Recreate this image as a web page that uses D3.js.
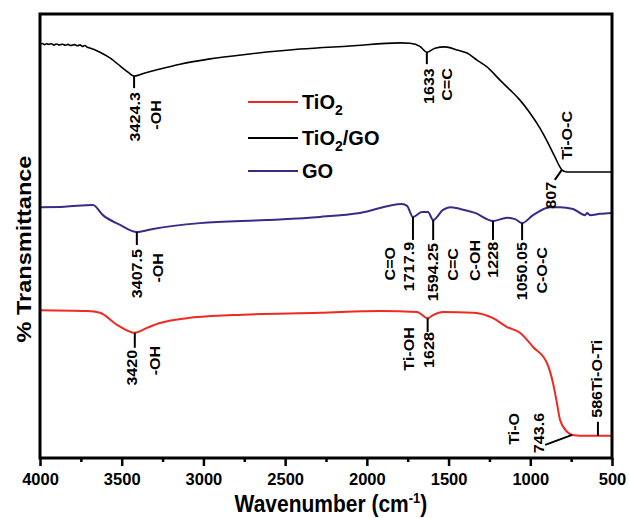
<!DOCTYPE html>
<html>
<head>
<meta charset="utf-8">
<script src="https://cdn.jsdelivr.net/npm/d3@7"></script>
<style>
  body { margin: 0; background: #fff; }
  svg { display: block; }
  text { font-family: "Liberation Sans", Arial, sans-serif; font-weight: bold; fill: #000; }
</style>
</head>
<body>
<svg width="629" height="518"></svg>
<script>
// FTIR spectra of TiO2, TiO2/GO and GO (offset, arbitrary % transmittance)

var majorTicks = [4000, 3500, 3000, 2500, 2000, 1500, 1000, 500];
var minorTicks = [3750, 3250, 2750, 2250, 1750, 1250, 750];

// [wavenumber, transmittance]
var tio2GO = [
  [4000, 93.2], [3985, 93.35], [3972, 93.1], [3960, 93.3], [3948, 93.15], [3930, 93.3],
  [3915, 93.0], [3900, 93.25], [3880, 93.05], [3862, 93.2], [3845, 92.95], [3830, 93.15],
  [3810, 92.9], [3790, 93.1], [3770, 92.85], [3755, 93.05], [3740, 92.7], [3725, 92.9],
  [3710, 92.5], [3700, 92.4], [3633, 91.4], [3572, 90.1],
  [3510, 88.3], [3462, 86.9], [3424.3, 86.0], [3358, 86.7], [3266, 87.6], [3143, 88.7],
  [2960, 89.9], [2715, 91.0], [2409, 92.1], [2103, 92.8], [1797, 93.5], [1736, 93.4],
  [1675, 92.7], [1633, 91.4], [1583, 92.3], [1522, 92.6], [1449, 91.9], [1387, 91.2],
  [1326, 89.6], [1265, 88.1], [1185, 85.1], [1124, 82.9], [1063, 80.6], [1002, 77.7],
  [941, 74.3], [892, 71.0], [849, 67.8], [818, 65.5], [807, 64.9], [790, 64.5],
  [775, 64.4], [500, 64.4]
];

var go = [
  [4000, 56.5], [3850, 56.6], [3676, 57.0], [3615, 54.7], [3510, 52.5], [3407.5, 50.9],
  [3309, 51.6], [3021, 52.9], [2611, 53.6], [2287, 54.3], [2042, 55.2], [1785, 57.2],
  [1754, 56.8], [1717.9, 54.3], [1663, 55.4], [1626, 55.4], [1594.25, 53.6], [1534, 55.9],
  [1491, 56.5], [1430, 56.1], [1338, 55.2], [1228, 53.4], [1142, 54.1], [1093, 53.8],
  [1050.05, 52.9], [983, 54.7], [879, 56.5], [818, 56.5], [739, 56.1], [665, 54.7],
  [653, 55.2], [635, 54.7], [574, 55.0], [500, 55.2]
];

var tio2 = [
  [4000, 33.3], [3712, 33.1], [3633, 32.7], [3529, 30.0], [3420, 28.2], [3345, 29.3],
  [3266, 30.4], [3101, 31.5], [2819, 32.2], [2287, 32.7], [1920, 33.1], [1693, 32.9],
  [1628, 31.5], [1595, 32.2], [1534, 32.9], [1350, 32.7], [1228, 31.5], [1142, 29.5],
  [1063, 28.2], [983, 25.0], [898, 21.4], [861, 16.9], [837, 12.4], [818, 8.6],
  [775, 5.9], [743.6, 5.2], [653, 5.0], [586, 5.0], [500, 5.0]
];

var seriesNames = ["TiO2", "TiO2/GO", "GO"];
var seriesColors = { "TiO2": "#ee2a24", "TiO2/GO": "#000000", "GO": "#3b2a8a" };
var seriesData = { "TiO2": tio2, "TiO2/GO": tio2GO, "GO": go };

// peak labels
var annotations = [
  { series: "TiO2/GO", wn: 3424.3, lines: ["3424.3", "-OH"] },
  { series: "TiO2/GO", wn: 1633, lines: ["1633", "C=C"] },
  { series: "TiO2/GO", wn: 807, lines: ["807", "Ti-O-C"] },
  { series: "GO", wn: 3407.5, lines: ["3407.5", "-OH"] },
  { series: "GO", wn: 1717.9, lines: ["C=O", "1717.9"] },
  { series: "GO", wn: 1594.25, lines: ["1594.25", "C=C"] },
  { series: "GO", wn: 1228, lines: ["C-OH", "1228"] },
  { series: "GO", wn: 1050.05, lines: ["1050.05", "C-O-C"] },
  { series: "TiO2", wn: 3420, lines: ["3420", "-OH"] },
  { series: "TiO2", wn: 1628, lines: ["Ti-OH", "1628"] },
  { series: "TiO2", wn: 743.6, lines: ["Ti-O", "743.6"] },
  { series: "TiO2", wn: 586, lines: ["586Ti-O-Ti"] }
];

// layout of each label: leader end offset, and text offsets (dx, dy, anchor)
var annLayout = [
  { lead: [0, 12], txt: [[1, 16, "end"], [22, 24, "end"]] },
  { lead: [0, 12], txt: [[2, 16, "end"], [20, 16, "end"]] },
  { lead: [-7, 10], txt: [[-11, 12, "end"], [5, -10, "start"]] },
  { lead: [0, 13], txt: [[0, 17, "end"], [21, 21, "end"]] },
  { lead: [0, 23], txt: [[-23, 30, "end"], [-4, 25, "end"]] },
  { lead: [0, 20], txt: [[0, 23, "end"], [20, 28, "end"]] },
  { lead: [0, 19], txt: [[-18, 19, "end"], [0, 21, "end"]] },
  { lead: [0, 17], txt: [[0, 19, "end"], [20, 24, "end"]] },
  { lead: [0, 15], txt: [[-3, 17, "end"], [20, 13, "end"]] },
  { lead: [0, 14], txt: [[-19, 9, "end"], [1, 14, "end"]] },
  { lead: [-27, 10], txt: [[-58, -22, "end"], [-33, -22, "end"]] },
  { lead: [0, -14], txt: [[-1, -18, "start"]] }
];

var svg = d3.select("svg"),
    plotL = 40, plotR = 612, plotT = 14, plotB = 458;

var xScale = d3.scaleLinear().domain([4000, 500]).range([plotL, plotR]),
    yScale = d3.scaleLinear().domain([0, 100]).range([plotB, plotT]);

// value of a series at a given wavenumber
var valueAt = function(data, wn) {
    for (var i = 0; i < data.length - 1; i++) {
        var a = data[i], b = data[i + 1];
        if (wn <= a[0] && wn >= b[0]) {
            var t = (a[0] - wn) / (a[0] - b[0]);
            return a[1] + t * (b[1] - a[1]);
        }
    }
    return data[data.length - 1][1];
};

// axes
var xAxis = d3.axisBottom(xScale).tickValues(majorTicks).tickSize(8).tickPadding(7)
              .tickFormat(d3.format("d"));
var xMinor = d3.axisBottom(xScale).tickValues(minorTicks).tickSize(4).tickFormat("");

var gx = svg.append("g").attr("transform", "translate(0," + plotB + ")").call(xAxis);
gx.select(".domain").remove();
gx.selectAll("line").attr("stroke", "#000").attr("stroke-width", 2.5);
gx.selectAll("text").style("font-size", "16.5px").attr("fill", "#000");

var gm = svg.append("g").attr("transform", "translate(0," + plotB + ")").call(xMinor);
gm.select(".domain").remove();
gm.selectAll("line").attr("stroke", "#000").attr("stroke-width", 2.5);

// lines
var line = d3.line()
    .x(function(d) { return xScale(d[0]); })
    .y(function(d) { return yScale(d[1]); })
    .curve(d3.curveMonotoneX);

seriesNames.forEach(function(name) {
    svg.append("path")
       .datum(seriesData[name])
       .attr("fill", "none")
       .attr("stroke", seriesColors[name])
       .attr("stroke-width", name === "TiO2/GO" ? 1.6 : 2)
       .attr("stroke-linejoin", "round")
       .attr("d", line);
});

// frame
svg.append("rect")
   .attr("x", plotL).attr("y", plotT)
   .attr("width", plotR - plotL).attr("height", plotB - plotT)
   .attr("fill", "none").attr("stroke", "#000").attr("stroke-width", 3);

// peak annotations
annotations.forEach(function(a, i) {
    var px = xScale(a.wn),
        py = yScale(valueAt(seriesData[a.series], a.wn)),
        lay = annLayout[i];
    svg.append("line")
       .attr("x1", px).attr("y1", py)
       .attr("x2", px + lay.lead[0]).attr("y2", py + lay.lead[1])
       .attr("stroke", "#000").attr("stroke-width", 2);
    a.lines.forEach(function(s, j) {
        var o = lay.txt[j];
        svg.append("text")
           .attr("transform", "translate(" + (px + o[0]) + "," + (py + o[1]) + ") rotate(-90) scale(1.15,1)")
           .attr("text-anchor", o[2])
           .attr("dy", "0.35em")
           .style("font-size", "14px")
           .text(s);
    });
});

// legend
var legendY = [102, 138, 171];
seriesNames.forEach(function(name, i) {
    var g = svg.append("g").attr("transform", "translate(248," + legendY[i] + ")");
    g.append("line").attr("x1", 0).attr("x2", 50).attr("y1", 0).attr("y2", 0)
     .attr("stroke", seriesColors[name]).attr("stroke-width", 2);
    var t = g.append("text").attr("x", 54).attr("y", 7).style("font-size", "20px");
    if (name === "GO") {
        t.text("GO");
    } else {
        t.append("tspan").text("TiO");
        t.append("tspan").attr("dy", 6).style("font-size", "14px").text("2");
        if (name === "TiO2/GO") t.append("tspan").attr("dy", -6).text("/GO");
    }
});

// axis titles
var xt = svg.append("text")
   .attr("x", 331).attr("y", 512)
   .attr("text-anchor", "middle")
   .style("font-size", "21px")
   .attr("transform", "translate(0,-51) scale(1,1.1)");
xt.append("tspan").text("Wavenumber (cm");
xt.append("tspan").attr("dy", -8).style("font-size", "13px").text("-1");
xt.append("tspan").attr("dy", 8).text(")");

svg.append("text")
   .attr("transform", "translate(31,249) rotate(-90) scale(1.12,1)")
   .attr("text-anchor", "middle")
   .style("font-size", "21px")
   .text("% Transmittance");
</script>
</body>
</html>
